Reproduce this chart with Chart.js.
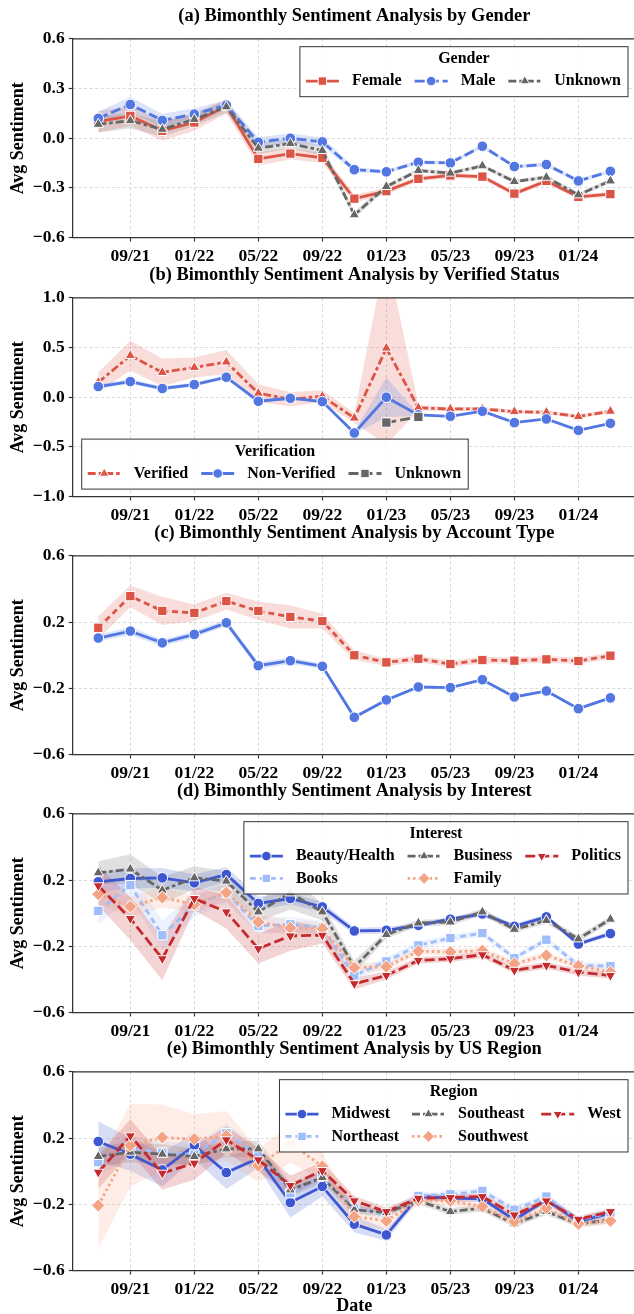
<!DOCTYPE html>
<html>
<head>
<meta charset="utf-8">
<script src="https://cdn.jsdelivr.net/npm/chart.js@4.4.1/dist/chart.umd.min.js"></script>
<style>
  html, body { margin: 0; padding: 0; background: #fff; overflow: hidden; width: 634px; height: 1314px; position: relative; }
  canvas { position: absolute; left: 0; }
</style>
</head>
<body>
<canvas id="c0"></canvas>
<canvas id="c1"></canvas>
<canvas id="c2"></canvas>
<canvas id="c3"></canvas>
<canvas id="c4"></canvas>
<script>
// x: bimonthly points, tick labels every 4 months
const dates = ['07/21','09/21','11/21','01/22','03/22','05/22','07/22','09/22','11/22','01/23','03/23','05/23','07/23','09/23','11/23','01/24','03/24'];
const tickLabels = ['09/21','01/22','05/22','09/22','01/23','05/23','09/23','01/24'];

// (a) gender
const femaleVals  = [0.100, 0.135, 0.045, 0.095, 0.195, -0.125, -0.093, -0.118, -0.365, -0.320, -0.245, -0.225, -0.232, -0.335, -0.258, -0.354, -0.338];
const femaleErr   = [0.065, 0.060, 0.060, 0.050, 0.045, 0.040, 0.035, 0.030, 0.025, 0.020, 0.015, 0.015, 0.015, 0.015, 0.015, 0.015, 0.015];
const maleVals    = [0.120, 0.204, 0.108, 0.146, 0.200, -0.024, 0.000, -0.022, -0.190, -0.203, -0.145, -0.149, -0.048, -0.171, -0.159, -0.258, -0.200];
const maleErr     = [0.040, 0.045, 0.040, 0.035, 0.030, 0.030, 0.030, 0.025, 0.015, 0.012, 0.012, 0.012, 0.012, 0.012, 0.012, 0.012, 0.012];
const genderUnkVals = [0.084, 0.106, 0.054, 0.114, 0.190, -0.060, -0.032, -0.074, -0.463, -0.292, -0.195, -0.211, -0.167, -0.262, -0.236, -0.342, -0.258];
const genderUnkErr  = [0.050, 0.045, 0.045, 0.040, 0.035, 0.035, 0.030, 0.030, 0.020, 0.015, 0.012, 0.012, 0.012, 0.012, 0.012, 0.012, 0.012];

// (b) verified status
const verifiedVals = [0.150, 0.420, 0.250, 0.300, 0.355, 0.040, -0.020, 0.010, -0.210, 0.495, -0.107, -0.118, -0.118, -0.145, -0.152, -0.195, -0.141];
const verifiedErr  = [0.100, 0.150, 0.140, 0.100, 0.120, 0.090, 0.070, 0.060, 0.050, 0.970, 0.030, 0.020, 0.020, 0.020, 0.020, 0.020, 0.020];
const nonVerVals   = [0.108, 0.158, 0.088, 0.128, 0.202, -0.040, -0.010, -0.044, -0.360, 0.000, -0.178, -0.192, -0.141, -0.256, -0.219, -0.333, -0.263];
const nonVerErr    = [0.020, 0.025, 0.020, 0.020, 0.020, 0.015, 0.015, 0.015, 0.015, 0.200, 0.010, 0.010, 0.010, 0.010, 0.010, 0.010, 0.010];
const verUnkVals   = [null, null, null, null, null, null, null, null, null, -0.255, -0.198, null, null, null, null, null, null];

// (c) account type
const individualVals = [0.104, 0.146, 0.075, 0.126, 0.196, -0.063, -0.033, -0.067, -0.375, -0.270, -0.192, -0.196, -0.148, -0.252, -0.216, -0.323, -0.258];
const individualErr  = [0.020, 0.025, 0.020, 0.020, 0.020, 0.020, 0.020, 0.015, 0.010, 0.010, 0.008, 0.008, 0.008, 0.008, 0.008, 0.008, 0.008];
const orgVals        = [0.166, 0.357, 0.268, 0.256, 0.327, 0.268, 0.232, 0.206, 0.000, -0.043, -0.021, -0.053, -0.029, -0.033, -0.025, -0.035, -0.003];
const orgErr         = [0.070, 0.065, 0.085, 0.050, 0.050, 0.055, 0.070, 0.045, 0.030, 0.020, 0.020, 0.020, 0.020, 0.020, 0.020, 0.020, 0.020];

// (d) interest
const beautyVals   = [0.190, 0.210, 0.214, 0.184, 0.234, 0.059, 0.089, 0.038, -0.107, -0.103, -0.073, -0.036, -0.004, -0.079, -0.022, -0.186, -0.123];
const beautyErr    = [0.060, 0.060, 0.060, 0.050, 0.045, 0.040, 0.035, 0.030, 0.020, 0.020, 0.015, 0.015, 0.015, 0.015, 0.015, 0.015, 0.015];
const booksVals    = [0.014, 0.170, -0.133, 0.048, 0.123, -0.077, -0.067, -0.087, -0.376, -0.291, -0.194, -0.150, -0.120, -0.271, -0.160, -0.315, -0.319];
const booksErr     = [0.080, 0.080, 0.090, 0.070, 0.060, 0.050, 0.045, 0.040, 0.030, 0.025, 0.025, 0.020, 0.020, 0.020, 0.020, 0.020, 0.020];
const businessVals = [0.244, 0.267, 0.139, 0.214, 0.194, 0.008, 0.123, 0.008, -0.325, -0.129, -0.059, -0.053, 0.008, -0.097, -0.044, -0.155, -0.036];
const businessErr  = [0.070, 0.090, 0.080, 0.070, 0.060, 0.060, 0.100, 0.050, 0.040, 0.025, 0.020, 0.020, 0.020, 0.020, 0.020, 0.020, 0.020];
const familyVals   = [0.115, 0.040, 0.095, 0.053, 0.125, -0.053, -0.089, -0.093, -0.329, -0.323, -0.230, -0.234, -0.226, -0.305, -0.255, -0.319, -0.356];
const familyErr    = [0.060, 0.060, 0.060, 0.050, 0.050, 0.050, 0.045, 0.040, 0.030, 0.025, 0.020, 0.020, 0.020, 0.020, 0.020, 0.020, 0.020];
const politicsVals = [0.166, -0.032, -0.275, 0.089, 0.008, -0.214, -0.137, -0.133, -0.426, -0.376, -0.285, -0.275, -0.251, -0.345, -0.315, -0.356, -0.376];
const politicsErr  = [0.120, 0.130, 0.130, 0.070, 0.100, 0.090, 0.090, 0.050, 0.035, 0.025, 0.020, 0.020, 0.020, 0.020, 0.020, 0.020, 0.020];

// (e) region
const midwestVals   = [0.180, 0.103, 0.008, 0.156, -0.008, 0.079, -0.189, -0.092, -0.320, -0.385, -0.153, -0.163, -0.167, -0.294, -0.173, -0.304, -0.254];
const midwestErr    = [0.120, 0.100, 0.100, 0.080, 0.100, 0.060, 0.090, 0.060, 0.050, 0.035, 0.020, 0.020, 0.020, 0.020, 0.020, 0.020, 0.020];
const northeastVals = [0.055, 0.140, 0.113, 0.101, 0.230, 0.099, -0.133, -0.032, -0.223, -0.264, -0.149, -0.139, -0.119, -0.233, -0.153, -0.294, -0.250];
const northeastErr  = [0.070, 0.070, 0.070, 0.060, 0.060, 0.050, 0.050, 0.040, 0.030, 0.025, 0.020, 0.020, 0.020, 0.020, 0.020, 0.020, 0.020];
const southeastVals = [0.089, 0.115, 0.103, 0.089, 0.135, 0.135, -0.113, -0.038, -0.233, -0.250, -0.179, -0.244, -0.223, -0.318, -0.244, -0.318, -0.294];
const southeastErr  = [0.060, 0.060, 0.060, 0.050, 0.050, 0.050, 0.040, 0.035, 0.025, 0.020, 0.020, 0.020, 0.020, 0.020, 0.020, 0.020, 0.020];
const southwestVals = [-0.207, 0.156, 0.204, 0.194, 0.214, 0.033, 0.170, 0.029, -0.274, -0.300, -0.177, -0.179, -0.213, -0.304, -0.223, -0.318, -0.300];
const southwestErr  = [0.260, 0.250, 0.200, 0.150, 0.150, 0.100, 0.120, 0.080, 0.050, 0.050, 0.030, 0.030, 0.030, 0.025, 0.025, 0.020, 0.020];
const westVals      = [-0.006, 0.214, -0.012, 0.049, 0.190, 0.069, -0.086, 0.004, -0.179, -0.244, -0.163, -0.159, -0.153, -0.264, -0.179, -0.290, -0.244];
const westErr       = [0.100, 0.100, 0.100, 0.100, 0.080, 0.070, 0.060, 0.050, 0.030, 0.025, 0.020, 0.020, 0.020, 0.020, 0.020, 0.020, 0.020];

// colours / line styles
const RED = '#db5446', BLUE = '#5277e3', GRAY = '#666666';
const DBLUE = '#3d56d1', LBLUE = '#9ebdfa', SALMON = '#f4a384', DRED = '#c42a2e';
const SOLID = [], DASH = [10, 4], DASHDOT = [8, 3, 3.5, 3], DOT = [2.5, 3], SHORTDASH = [6, 4];
const SQUARE = {shape: 'rect', r: 6.6}, CIRCLE = {shape: 'circle', r: 5.3};
const TRI = {shape: 'triangle', r: 6}, TRIDOWN = {shape: 'triangle', r: 6, rot: 180};
const DIAMOND = {shape: 'rectRot', r: 6.6};
const LINE_W = 2.8;

const FONT = "'Liberation Serif', 'Times New Roman', serif";
Chart.defaults.font.family = FONT;
Chart.defaults.font.weight = 'bold';
Chart.defaults.color = '#000';

function rgba(hex, a) {
  const n = parseInt(hex.slice(1), 16);
  return `rgba(${n >> 16}, ${(n >> 8) & 255}, ${n & 255}, ${a})`;
}

function fmt(v) {
  if (Math.abs(v) < 1e-9) return '0.0';
  return (v < 0 ? '\u2212' : '') + Math.abs(v).toFixed(1);
}

function pts(vals, off, sign) {
  return vals.map((v, i) => ({x: i * 2, y: v == null ? null : v + (off ? sign * off[i] : 0)}));
}

// top spine + matplotlib style framed legend
const boxLegend = {
  id: 'boxLegend',
  afterDraw(chart, args, opts) {
    const ctx = chart.ctx, area = chart.chartArea;
    ctx.save();
    ctx.strokeStyle = '#333';
    ctx.lineWidth = 1.25;
    ctx.beginPath();
    ctx.moveTo(area.left, area.top);
    ctx.lineTo(area.right, area.top);
    ctx.stroke();
    if (!opts || !opts.items) { ctx.restore(); return; }

    ctx.font = 'bold 16px ' + FONT;
    const items = opts.items, ncol = opts.ncol;
    const nrow = Math.ceil(items.length / ncol);
    const HANDLE = 33, TPAD = 13, CSP = 13, PADL = 6, PADR = 7;
    const cols = [];
    for (let c = 0; c < ncol; c++) {
      const ci = items.slice(c * nrow, (c + 1) * nrow);
      cols.push({items: ci, w: Math.max(...ci.map(it => ctx.measureText(it.label).width))});
    }
    const width = PADL + PADR + cols.reduce((a, c) => a + HANDLE + TPAD + c.w, 0) + CSP * (ncol - 1);
    const height = 12.4 + 22 + 22.3 * (nrow - 1) + 15.6;
    let x0, y0;
    if (opts.loc === 'lower left') {
      x0 = area.left + 9; y0 = area.bottom - 7.4 - height;
    } else {
      x0 = area.right - 8 - width; y0 = area.top + 7.7;
    }
    ctx.fillStyle = 'rgba(255,255,255,0.9)';
    ctx.fillRect(x0, y0, width, height);
    ctx.strokeStyle = '#333';
    ctx.lineWidth = 1;
    ctx.strokeRect(x0, y0, width, height);

    ctx.fillStyle = '#000';
    ctx.textAlign = 'center';
    ctx.textBaseline = 'middle';
    ctx.fillText(opts.title, x0 + width / 2, y0 + 12.4);

    let hx = x0 + PADL;
    cols.forEach(col => {
      col.items.forEach((it, r) => {
        const y = y0 + 12.4 + 22 + 22.3 * r;
        ctx.save();
        ctx.strokeStyle = it.color;
        ctx.lineWidth = LINE_W;
        ctx.setLineDash(it.dash);
        ctx.beginPath();
        ctx.moveTo(hx, y);
        ctx.lineTo(hx + HANDLE, y);
        ctx.stroke();
        ctx.setLineDash([]);
        ctx.fillStyle = it.color;
        ctx.strokeStyle = '#fff';
        ctx.lineWidth = 1;
        Chart.helpers.drawPoint(ctx, {pointStyle: it.shape, rotation: it.rot || 0, radius: it.r * 0.9, borderWidth: 1}, hx + HANDLE / 2, y);
        ctx.restore();
        ctx.fillStyle = '#000';
        ctx.textAlign = 'left';
        ctx.textBaseline = 'middle';
        ctx.fillText(it.label, hx + HANDLE + TPAD, y);
      });
      hx += HANDLE + TPAD + col.w + CSP;
    });
    ctx.restore();
  }
};
Chart.register(boxLegend);

const PLOT_H = 198.5;

function makeChart(id, top, H, cfg) {
  const cv = document.getElementById(id);
  cv.width = 636; cv.height = H;
  cv.style.width = '636px'; cv.style.height = H + 'px';
  cv.style.top = top + 'px';

  const n = cfg.series.length;
  const datasets = [];
  cfg.series.forEach((s, k) => {
    if (s.err) {
      datasets.push({data: pts(s.vals, s.err, -1), borderColor: 'transparent', borderWidth: 0, pointRadius: 0, fill: false, order: 200 - k});
      datasets.push({data: pts(s.vals, s.err, 1), borderColor: 'transparent', borderWidth: 0, pointRadius: 0,
        fill: '-1', backgroundColor: rgba(s.color, 0.2), order: 200 - k});
    }
    datasets.push({
      label: s.label, data: pts(s.vals),
      borderColor: s.color, backgroundColor: s.color, borderWidth: LINE_W, borderDash: s.dash,
      pointStyle: s.shape, pointRotation: s.rot || 0, pointRadius: s.r,
      pointBackgroundColor: s.color, pointBorderColor: '#fff', pointBorderWidth: 1,
      fill: false, tension: 0, spanGaps: false, order: n - k
    });
  });

  const tickVals = tickLabels.map(l => dates.indexOf(l) * 2);

  return new Chart(cv, {
    type: 'line',
    data: {datasets},
    options: {
      responsive: false,
      animation: false,
      events: [],
      layout: {padding: 0, autoPadding: false},
      plugins: {
        legend: {display: false},
        tooltip: {enabled: false},
        title: {display: true, text: cfg.title, fullSize: false, font: {size: 18.4, weight: 'bold'}, padding: {top: 5.5, bottom: 11.4}, color: '#000'},
        boxLegend: {title: cfg.legendTitle, ncol: 3, loc: cfg.loc || 'upper right',
          items: cfg.series.map(s => ({label: s.label, color: s.color, dash: s.dash, shape: s.shape, rot: s.rot, r: s.r}))}
      },
      scales: {
        x: {
          type: 'linear', min: -1.6, max: 33.6,
          afterBuildTicks: sc => { sc.ticks = tickVals.map(v => ({value: v})); },
          afterFit: sc => { sc.height = H - 39 - PLOT_H; },
          ticks: {callback: v => dates[v / 2], font: {size: 17.5, weight: 'bold'}, padding: 4, maxRotation: 0, autoSkip: false, color: '#000'},
          grid: {color: '#cfcfcf', lineWidth: 0.8, tickColor: '#333', tickLength: 4, tickWidth: 1.2},
          border: {display: true, color: '#333', width: 1.25, dash: [3, 2.5]},
          title: {display: !!cfg.xTitle, text: cfg.xTitle || '', font: {size: 18, weight: 'bold'}, padding: {top: 0, bottom: 5.5}, color: '#000'}
        },
        y: {
          min: cfg.yMin, max: cfg.yMax,
          afterFit: sc => { sc.width = 72.7; },
          ticks: {stepSize: cfg.yStep, callback: v => fmt(v), font: {size: 17.5, weight: 'bold'}, padding: 4, color: '#000'},
          grid: {color: '#cfcfcf', lineWidth: 0.8, tickColor: '#333', tickLength: 4, tickWidth: 1.2},
          border: {display: true, color: '#333', width: 1.25, dash: [3, 2.5]},
          title: {display: true, text: 'Avg Sentiment', font: {size: 18, weight: 'bold'}, padding: {top: 7.5, bottom: 0}, color: '#000'}
        }
      }
    }
  });
}

makeChart('c0', 0, 262, {
  title: '(a) Bimonthly Sentiment Analysis by Gender', legendTitle: 'Gender',
  yMin: -0.6, yMax: 0.6, yStep: 0.3,
  series: [
    {label: 'Female', vals: femaleVals, err: femaleErr, color: RED, dash: SOLID, ...SQUARE},
    {label: 'Male', vals: maleVals, err: maleErr, color: BLUE, dash: DASH, ...CIRCLE},
    {label: 'Unknown', vals: genderUnkVals, err: genderUnkErr, color: GRAY, dash: DASHDOT, ...TRI}
  ]
});

makeChart('c1', 259, 262, {
  title: '(b) Bimonthly Sentiment Analysis by Verified Status', legendTitle: 'Verification',
  yMin: -1, yMax: 1, yStep: 0.5, loc: 'lower left',
  series: [
    {label: 'Verified', vals: verifiedVals, err: verifiedErr, color: RED, dash: DASHDOT, ...TRI},
    {label: 'Non-Verified', vals: nonVerVals, err: nonVerErr, color: BLUE, dash: SOLID, ...CIRCLE},
    {label: 'Unknown', vals: verUnkVals, color: GRAY, dash: DASH, ...SQUARE}
  ]
});

makeChart('c2', 517, 262, {
  title: '(c) Bimonthly Sentiment Analysis by Account Type', legendTitle: 'Account Type',
  yMin: -0.6, yMax: 0.6, yStep: 0.4,
  series: [
    {label: 'Individual', vals: individualVals, err: individualErr, color: BLUE, dash: SOLID, ...CIRCLE},
    {label: 'Organizational', vals: orgVals, err: orgErr, color: RED, dash: SHORTDASH, ...SQUARE}
  ]
});

makeChart('c3', 775, 262, {
  title: '(d) Bimonthly Sentiment Analysis by Interest', legendTitle: 'Interest',
  yMin: -0.6, yMax: 0.6, yStep: 0.4,
  series: [
    {label: 'Beauty/Health', vals: beautyVals, err: beautyErr, color: DBLUE, dash: SOLID, ...CIRCLE},
    {label: 'Books', vals: booksVals, err: booksErr, color: LBLUE, dash: SHORTDASH, ...SQUARE},
    {label: 'Business', vals: businessVals, err: businessErr, color: GRAY, dash: DASHDOT, ...TRI},
    {label: 'Family', vals: familyVals, err: familyErr, color: SALMON, dash: DOT, ...DIAMOND},
    {label: 'Politics', vals: politicsVals, err: politicsErr, color: DRED, dash: DASH, ...TRIDOWN}
  ]
});

makeChart('c4', 1033, 290, {
  title: '(e) Bimonthly Sentiment Analysis by US Region', legendTitle: 'Region', xTitle: 'Date',
  yMin: -0.6, yMax: 0.6, yStep: 0.4,
  series: [
    {label: 'Midwest', vals: midwestVals, err: midwestErr, color: DBLUE, dash: SOLID, ...CIRCLE},
    {label: 'Northeast', vals: northeastVals, err: northeastErr, color: LBLUE, dash: SHORTDASH, ...SQUARE},
    {label: 'Southeast', vals: southeastVals, err: southeastErr, color: GRAY, dash: DASHDOT, ...TRI},
    {label: 'Southwest', vals: southwestVals, err: southwestErr, color: SALMON, dash: DOT, ...DIAMOND},
    {label: 'West', vals: westVals, err: westErr, color: DRED, dash: DASH, ...TRIDOWN}
  ]
});
</script>
</body>
</html>
